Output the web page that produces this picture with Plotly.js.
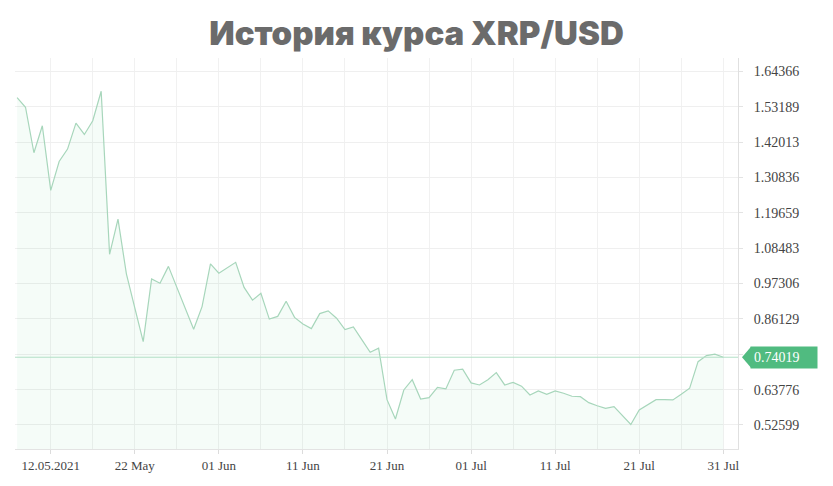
<!DOCTYPE html>
<html><head><meta charset="utf-8">
<script src="https://cdn.plot.ly/plotly-3.0.1.min.js"></script>
<style>html,body{margin:0;padding:0;background:#fff}#chart{width:833px;height:486px}</style>
</head><body><div id="chart"></div>
<script>
const chartTitle = 'История курса XRP/USD';

const dates = [
 '2021-05-08','2021-05-09','2021-05-10','2021-05-11','2021-05-12','2021-05-13','2021-05-14','2021-05-15','2021-05-16','2021-05-17',
 '2021-05-18','2021-05-19','2021-05-20','2021-05-21','2021-05-22','2021-05-23','2021-05-24','2021-05-25','2021-05-26','2021-05-27',
 '2021-05-28','2021-05-29','2021-05-30','2021-05-31',
 '2021-06-01','2021-06-02','2021-06-03','2021-06-04','2021-06-05','2021-06-06','2021-06-07','2021-06-08','2021-06-09','2021-06-10',
 '2021-06-11','2021-06-12','2021-06-13','2021-06-14','2021-06-15','2021-06-16','2021-06-17','2021-06-18','2021-06-19','2021-06-20',
 '2021-06-21','2021-06-22','2021-06-23','2021-06-24','2021-06-25','2021-06-26','2021-06-27','2021-06-28','2021-06-29','2021-06-30',
 '2021-07-01','2021-07-02','2021-07-03','2021-07-04','2021-07-05','2021-07-06','2021-07-07','2021-07-08','2021-07-09','2021-07-10',
 '2021-07-11','2021-07-12','2021-07-13','2021-07-14','2021-07-15','2021-07-16','2021-07-17','2021-07-18','2021-07-19','2021-07-20',
 '2021-07-21','2021-07-22','2021-07-23','2021-07-24','2021-07-25','2021-07-26','2021-07-27','2021-07-28','2021-07-29','2021-07-30',
 '2021-07-31'
];

const prices = [
 1.5605,1.5304,1.3865,1.4719,1.2678,1.3590,1.3982,1.4804,1.4444,1.4877,
 1.5810,1.0654,1.1767,1.0037,0.8961,0.7895,0.9879,0.9743,1.0274,0.9626,
 0.8961,0.8287,0.9002,1.0353,
 1.0059,1.0217,1.0401,0.9610,0.9205,0.9426,0.8607,0.8692,0.9173,0.8661,
 0.8455,0.8306,0.8781,0.8866,0.8635,0.8275,0.8360,0.7958,0.7560,0.7686,
 0.6060,0.5450,0.6367,0.6693,0.6082,0.6124,0.6446,0.6399,0.6990,0.7022,
 0.6589,0.6525,0.6693,0.6914,0.6525,0.6604,0.6487,0.6209,0.6336,0.6231,
 0.6336,0.6263,0.6168,0.6155,0.5965,0.5867,0.5788,0.5839,0.5560,0.5276,
 0.5734,0.5902,0.6060,0.6060,0.6051,0.6231,0.6421,0.7262,0.7452,0.7497,
 0.74019
];

const yTickLabels = ['0.52599','0.63776','0.74953','0.86129','0.97306','1.08483','1.19659','1.30836','1.42013','1.53189','1.64366'];
const yTickShown  = ['0.52599','0.63776','','0.86129','0.97306','1.08483','1.19659','1.30836','1.42013','1.53189','1.64366'];

const xTickDates  = ['2021-05-12','2021-05-22','2021-06-01','2021-06-11','2021-06-21','2021-07-01','2021-07-11','2021-07-21','2021-07-31'];
const xTickLabels = ['12.05.2021','22 May','01 Jun','11 Jun','21 Jun','01 Jul','11 Jul','21 Jul','31 Jul'];
const xGridDates  = ['2021-05-12','2021-05-17','2021-05-22','2021-05-27','2021-06-01','2021-06-06','2021-06-11','2021-06-16','2021-06-21',
                     '2021-06-26','2021-07-01','2021-07-06','2021-07-11','2021-07-16','2021-07-21','2021-07-26','2021-07-31'];

const lastPrice = prices[prices.length - 1];
const green = '#50bb80';

const trace = {
  type: 'scatter', mode: 'lines',
  x: dates, y: prices,
  line: {color: '#a7d6bb', width: 1.2},
  fill: 'tozeroy', fillcolor: 'rgba(90,200,130,0.06)',
  hoverinfo: 'skip'
};

const layout = {
  width: 833, height: 486,
  margin: {l: 15, r: 95, t: 58, b: 37},
  paper_bgcolor: '#ffffff', plot_bgcolor: '#ffffff',
  showlegend: false,
  title: {
    text: chartTitle,
    x: 0.5, xanchor: 'center', xref: 'container',
    y: 0.932, yanchor: 'middle', yref: 'container',
    font: {family: 'Inter, "Open Sans", sans-serif', size: 33, weight: 900, color: '#6b6b6b'}
  },
  xaxis: {
    type: 'date',
    range: ['2021-05-07 18:00', '2021-08-01 18:00'],
    tickmode: 'array', tickvals: xTickDates, ticktext: xTickLabels,
    showgrid: true, gridcolor: '#f1f1f1', gridwidth: 1,
    minor: {tickmode: 'array', tickvals: xGridDates, showgrid: true, gridcolor: '#f1f1f1', gridwidth: 1, ticks: ''},
    ticks: 'outside', ticklen: 4, tickcolor: '#dcdcdc',
    showline: true, linecolor: '#e3e3e3', linewidth: 1,
    zeroline: false,
    tickfont: {family: '"Liberation Serif", "Times New Roman", serif', size: 13, color: '#444'},
    fixedrange: true
  },
  yaxis: {
    side: 'right',
    range: [0.45006, 1.68606],
    tickmode: 'array', tickvals: yTickLabels.map(Number), ticktext: yTickShown,
    showgrid: true, gridcolor: '#efefef', gridwidth: 1,
    ticks: 'outside', ticklen: 4, tickcolor: '#e3e3e3',
    ticklabelstandoff: 8,
    showline: true, linecolor: '#e0e0e0', linewidth: 1,
    zeroline: false,
    tickfont: {family: '"Liberation Serif", "Times New Roman", serif', size: 14, color: '#444'},
    fixedrange: true
  },
  shapes: [
    {type: 'line', xref: 'paper', x0: 0, x1: 1, yref: 'y', y0: lastPrice, y1: lastPrice,
     line: {color: '#b2e0c6', width: 1}, layer: 'above'},
    {type: 'path', xref: 'paper', yref: 'y', xsizemode: 'pixel', ysizemode: 'pixel',
     xanchor: 1, yanchor: lastPrice,
     path: 'M 4 0 L 13 10.5 L 13 -10.5 Z',
     fillcolor: green, line: {width: 0}, layer: 'above'}
  ],
  annotations: [
    {xref: 'paper', x: 1, xanchor: 'left', xshift: 12, yref: 'y', y: lastPrice, yanchor: 'middle',
     text: lastPrice.toFixed(5), showarrow: false, align: 'left',
     bgcolor: green, borderpad: 3, width: 60, height: 15,
     font: {family: '"Liberation Serif", "Times New Roman", serif', size: 14, color: '#ffffff'}}
  ]
};

Plotly.newPlot('chart', [trace], layout, {staticPlot: true, displayModeBar: false});
</script>
</body></html>
